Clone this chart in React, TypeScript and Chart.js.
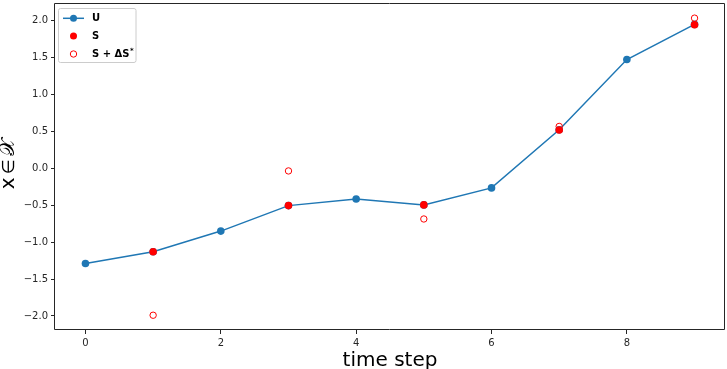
import React, { useEffect, useRef } from "react";
import { Chart, registerables } from "chart.js";

Chart.register(...registerables);

const steps = [0, 1, 2, 3, 4, 5, 6, 7, 8, 9];
const uValues = [-1.29, -1.13, -0.85, -0.505, -0.415, -0.495, -0.265, 0.523, 1.474, 1.95];
const sSteps = [1, 3, 5, 7, 9];
const sValues = [-1.13, -0.505, -0.495, 0.52, 1.945];
const sPerturbedValues = [-1.99, -0.035, -0.686, 0.568, 2.035];
const xTickValues = [0, 2, 4, 6, 8];
const yTickValues = [-2, -1.5, -1, -0.5, 0, 0.5, 1, 1.5, 2];

const BLUE = "#1f77b4";
const RED = "#ff0000";
const FONT = "'DejaVu Sans', sans-serif";

const framePlugin = {
  id: "frame",
  afterDraw(chart: any) {
    const { ctx, chartArea } = chart;
    const { left, right, top, bottom } = chartArea;
    ctx.save();
    // frame
    const l = Math.round(left) - 0.5;
    const r = Math.round(right) - 0.5;
    const t0 = Math.round(top) + 0.5;
    const b = Math.round(bottom) - 0.5;
    ctx.strokeStyle = "#262626";
    ctx.lineWidth = 1;
    ctx.beginPath();
    ctx.moveTo(l, t0);
    ctx.lineTo(r, t0);
    ctx.lineTo(r, b);
    ctx.lineTo(l, b);
    ctx.closePath();
    ctx.stroke();

    // x title
    ctx.fillStyle = "#000";
    ctx.textAlign = "center";
    ctx.textBaseline = "alphabetic";
    ctx.font = `20px ${FONT}`;
    ctx.fillText("time step", (left + right) / 2, 366);

    // y title: glyphs placed one by one
    ctx.save();
    ctx.translate(14, 164);
    ctx.rotate(-Math.PI / 2);
    ctx.textAlign = "left";
    ctx.textBaseline = "alphabetic";
    const parts = [
      { t: "x", f: `20px ${FONT}` },
      { t: "∈", f: `17px ${FONT}` },
      { t: "𝒳", f: `20px ${FONT}` },
    ];
    const gap = 3.5;
    const widths = parts.map((p) => {
      ctx.font = p.f;
      return ctx.measureText(p.t).width;
    });
    const total = widths.reduce((a, c) => a + c, 0) + gap * (parts.length - 1);
    let px = -total / 2;
    parts.forEach((p, i) => {
      ctx.font = p.f;
      ctx.fillText(p.t, px, 0);
      px += widths[i] + gap;
    });
    ctx.restore();

    // legend
    const lx = 58.5, ly = 8.5, lw = 77.5, lh = 54;
    ctx.fillStyle = "rgba(255,255,255,0.8)";
    ctx.strokeStyle = "#cccccc";
    ctx.lineWidth = 1;
    ctx.beginPath();
    (ctx as any).roundRect(lx, ly, lw, lh, 2);
    ctx.fill();
    ctx.stroke();

    const rows = [18.3, 36, 54];
    // U
    ctx.strokeStyle = BLUE;
    ctx.lineWidth = 1.5;
    ctx.beginPath();
    ctx.moveTo(63, rows[0]);
    ctx.lineTo(84, rows[0]);
    ctx.stroke();
    ctx.fillStyle = BLUE;
    ctx.beginPath();
    ctx.arc(73.5, rows[0], 3.5, 0, Math.PI * 2);
    ctx.fill();
    // S
    ctx.fillStyle = RED;
    ctx.beginPath();
    ctx.arc(73.5, rows[1], 3.5, 0, Math.PI * 2);
    ctx.fill();
    // S + dS
    ctx.strokeStyle = RED;
    ctx.lineWidth = 1;
    ctx.beginPath();
    ctx.arc(73.5, rows[2], 3.2, 0, Math.PI * 2);
    ctx.stroke();

    ctx.fillStyle = "#000";
    ctx.textAlign = "left";
    ctx.textBaseline = "middle";
    ctx.font = `bold 10px ${FONT}`;
    ctx.fillText("U", 92, rows[0]);
    ctx.fillText("S", 92, rows[1]);
    const t = "S + ΔS";
    ctx.fillText(t, 92, rows[2]);
    const tw = ctx.measureText(t).width;
    ctx.font = `bold 7px ${FONT}`;
    ctx.fillText("*", 92 + tw + 0.5, rows[2] - 3);
    ctx.restore();
  },
};

export default function App() {
  const canvasRef = useRef<HTMLCanvasElement>(null);

  useEffect(() => {
    document.body.style.margin = "0";
    const canvas = canvasRef.current!;
    const chart = new Chart(canvas, {
      type: "scatter",
      data: {
        datasets: [
          {
            label: "S + ΔS*",
            data: sSteps.map((x, i) => ({ x, y: sPerturbedValues[i] })),
            showLine: false,
            backgroundColor: "rgba(255,255,255,0)",
            borderColor: RED,
            borderWidth: 1,
            pointRadius: 3.2,
            pointHoverRadius: 3.2,
            order: 1,
          },
          {
            label: "S",
            data: sSteps.map((x, i) => ({ x, y: sValues[i] })),
            showLine: false,
            backgroundColor: RED,
            borderColor: RED,
            borderWidth: 0,
            pointRadius: 3.8,
            pointHoverRadius: 3.8,
            order: 2,
          },
          {
            label: "U",
            data: steps.map((x, i) => ({ x, y: uValues[i] })),
            showLine: true,
            borderColor: BLUE,
            backgroundColor: BLUE,
            borderWidth: 1.5,
            pointRadius: 3.8,
            pointHoverRadius: 3.8,
            pointBorderWidth: 0,
            tension: 0,
            order: 3,
          },
        ],
      },
      options: {
        responsive: false,
        animation: false,
        events: [],
        layout: { autoPadding: false, padding: { top: 3, right: 2, left: 0, bottom: 0 } },
        plugins: {
          legend: { display: false },
          tooltip: { enabled: false },
        },
        scales: {
          x: {
            type: "linear",
            min: -0.45,
            max: 9.45,
            afterBuildTicks: (scale: any) => {
              scale.ticks = xTickValues.map((v) => ({ value: v }));
            },
            afterFit: (scale: any) => {
              scale.height = 39;
              scale.paddingLeft = 0;
              scale.paddingRight = 0;
            },
            grid: {
              drawOnChartArea: false,
              drawTicks: true,
              tickLength: 4,
              tickWidth: 1,
              tickColor: "#262626",
            },
            border: { display: false },
            ticks: {
              color: "#262626",
              font: { family: FONT, size: 10 },
              padding: 3,
              maxRotation: 0,
              callback: (v: any) => String(v),
            },
          },
          y: {
            type: "linear",
            min: -2.19,
            max: 2.24,
            afterBuildTicks: (scale: any) => {
              scale.ticks = yTickValues.map((v) => ({ value: v }));
            },
            afterFit: (scale: any) => {
              scale.width = 55;
              scale.paddingTop = 0;
              scale.paddingBottom = 0;
            },
            grid: {
              drawOnChartArea: false,
              drawTicks: true,
              tickLength: 4,
              tickWidth: 1,
              tickColor: "#262626",
            },
            border: { display: false },
            ticks: {
              color: "#262626",
              font: { family: FONT, size: 10 },
              padding: 3,
              callback: (v: any) => Number(v).toFixed(1).replace("-", "\u2212"),
            },
          },
        },
      },
      plugins: [framePlugin],
    });
    return () => chart.destroy();
  }, []);

  return (
    <div style={{ position: "absolute", left: 0, top: 0, width: 727, height: 369, background: "#fff" }}>
      <canvas ref={canvasRef} width={727} height={369} style={{ width: 727, height: 369, display: "block" }} />
    </div>
  );
}
